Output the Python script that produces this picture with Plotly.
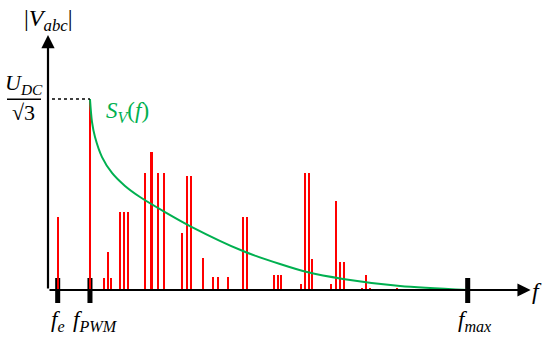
import plotly.graph_objects as go

# harmonic lines: frequency (f_max = 100) and amplitude (U_DC/sqrt(3) = 1)
freqs = [2.31, 10.0, 13.41, 14.22, 14.94, 17.23, 18.11, 18.99,
         23.18, 24.66, 26.21, 27.71, 31.93, 33.05, 34.0, 36.93,
         39.31, 40.43, 42.82, 46.53, 47.34, 53.85, 54.73, 55.52,
         60.35, 61.16, 62.12, 62.83, 67.43, 68.55, 69.5, 70.45,
         74.82, 75.77, 76.73, 83.08]
amps = [0.384, 1.0, 0.063, 0.20, 0.063, 0.408, 0.408, 0.408,
        0.611, 0.725, 0.611, 0.611, 0.30, 0.597, 0.597, 0.166,
        0.066, 0.066, 0.066, 0.381, 0.381, 0.077, 0.077, 0.077,
        0.033, 0.611, 0.611, 0.164, 0.033, 0.464, 0.145, 0.145,
        0.010, 0.077, 0.010, 0.010]

# envelope S_V(f)
env_f = [10.0, 10.48, 11.2, 12.87, 15.25, 18.35, 21.92, 27.88,
         33.83, 46.46, 55.28, 61.71, 70.29, 83.87, 100.0]
env_a = [1.0, 0.88, 0.801, 0.696, 0.613, 0.545, 0.487, 0.408,
         0.335, 0.204, 0.136, 0.094, 0.058, 0.021, 0.0]

tick_f = [2.31, 10.0, 100.0]
tick_labels = ["<i>f</i><sub><i>e</i></sub>",
               "<i>f</i><sub><i>PWM</i></sub>",
               "<i>f</i><sub><i>max</i></sub>"]

W, H = 550, 337
FONT = "Liberation Serif"
RED = "#ff0000"
GREEN = "#00b050"


def px(x):
    return x / W


def py(y):
    return 1 - y / H


def label(x, y, text, size=22, color="black"):
    return dict(x=px(x), y=py(y), xref="paper", yref="paper", showarrow=False,
                xanchor="center", yanchor="middle", text=text,
                font=dict(family=FONT, size=size, color=color))


fig = go.Figure()
fig.add_trace(go.Bar(x=freqs, y=amps, width=0.5, marker_color=RED,
                     marker_line_width=0, hoverinfo="skip"))
fig.add_trace(go.Scatter(x=env_f, y=env_a, mode="lines",
                         line=dict(color=GREEN, width=2, shape="spline", smoothing=0.8),
                         hoverinfo="skip"))

shapes = []
for f in tick_f:
    shapes.append(dict(type="rect", x0=f - 0.6, x1=f + 0.6, y0=-0.068, y1=0.063,
                       fillcolor="black", line_width=0, layer="below"))
# dotted line to the U_DC/sqrt(3) level
shapes.append(dict(type="line", x0=0.95, x1=10.0, y0=1.0, y1=1.0,
                   line=dict(color="black", width=1.5, dash="dot")))
# fraction bar
shapes.append(dict(type="line", xref="paper", yref="paper", x0=px(7), x1=px(41),
                   y0=py(99.3), y1=py(99.3), line=dict(color="black", width=1.5)))

annotations = [
    # axes with arrows
    dict(x=115.0, y=0, ax=0, ay=0, xref="x", yref="y", axref="x", ayref="y",
         text="", showarrow=True, arrowhead=2, arrowsize=1.2, arrowwidth=2.2,
         arrowcolor="black"),
    dict(x=0, y=(290 - 35) / 191, ax=0, ay=0, xref="x", yref="y", axref="x", ayref="y",
         text="", showarrow=True, arrowhead=2, arrowsize=1.2, arrowwidth=2.2,
         arrowcolor="black"),
    label(48, 20, "|<i>V</i><sub><i>abc</i></sub>|", size=24),
    label(24, 84, "<i>U</i><sub><i>DC</i></sub>", size=22),
    label(23, 113, "√3", size=22),
    label(127, 112, "<i>S</i><sub><i>V</i></sub>(<i>f</i>)", size=23, color=GREEN),
    label(537, 291, "<i>f</i>", size=24),
]
label_x = [58, 95, 475]
for lab, lx in zip(tick_labels, label_x):
    annotations.append(label(lx, 321, lab, size=23))

fig.update_layout(
    width=W, height=H,
    margin=dict(l=0, r=0, t=0, b=0),
    paper_bgcolor="white", plot_bgcolor="white",
    showlegend=False,
    font=dict(family=FONT, color="black"),
    xaxis=dict(range=[-48 / 4.197, 502 / 4.197], visible=False, fixedrange=True),
    yaxis=dict(range=[(290 - 337) / 191, 290 / 191], visible=False, fixedrange=True),
    shapes=shapes,
    annotations=annotations,
    bargap=0,
)

fig.write_html("out.html", config={"displayModeBar": False},
               post_script="document.body.style.margin='0';")
